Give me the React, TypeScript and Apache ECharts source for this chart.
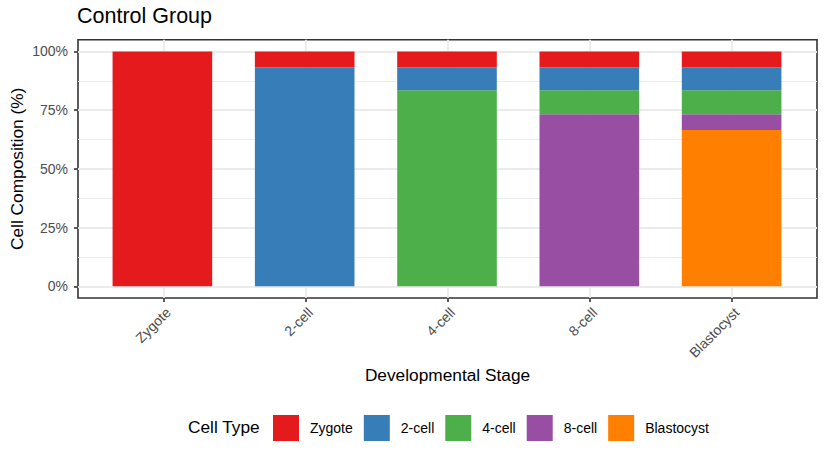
import React, { useEffect, useRef } from "react";
import * as echarts from "echarts";

const stages = ["Zygote", "2-cell", "4-cell", "8-cell", "Blastocyst"];
const cellTypes = ["Zygote", "2-cell", "4-cell", "8-cell", "Blastocyst"];
const zygotePct = [100, 6.8, 6.8, 6.8, 6.8];
const twoCellPct = [0, 93.2, 9.7, 9.7, 9.7];
const fourCellPct = [0, 0, 83.5, 10.2, 10.2];
const eightCellPct = [0, 0, 0, 73.3, 6.8];
const blastocystPct = [0, 0, 0, 0, 66.5];
const yTicks = [0, 25, 50, 75, 100];
const yMinorTicks = [12.5, 37.5, 62.5, 87.5];
const colors = ["#E41A1C", "#377EB8", "#4DAF4A", "#984EA3", "#FF7F00"];

const FONT = "'Liberation Sans', Arial, Helvetica, sans-serif";

export default function App() {
  const ref = useRef<HTMLDivElement>(null);
  useEffect(() => {
    document.body.style.margin = "0";
    if (!ref.current) return;
    const chart = echarts.init(ref.current, null, { renderer: "svg" });
    const valuesByType = [zygotePct, twoCellPct, fourCellPct, eightCellPct, blastocystPct];
    const xIdx = stages.map((_, i) => i);
    // panel: 77..817 px wide, discrete expansion 0.6 on each side
    const panelLeft = 77;
    const panelRight = 817;
    const unit = (panelRight - panelLeft) / 5.2;
    const barLeft = panelLeft + 0.1 * unit;
    const barRight = panelRight - 0.1 * unit;
    // stack order: first series at bottom -> Blastocyst first
    const order = [4, 3, 2, 1, 0];
    const series: any[] = order.map((k) => ({
      name: cellTypes[k],
      type: "bar",
      stack: "total",
      xAxisIndex: 1,
      yAxisIndex: 2,
      barWidth: "70%",
      itemStyle: { color: colors[k] },
      data: valuesByType[k],
    }));
    const tickStyle = { color: "#333333", width: 1.6 };
    chart.setOption({
      animation: false,
      textStyle: { fontFamily: FONT },
      title: {
        text: "Control Group",
        left: 77,
        top: 5,
        padding: 0,
        textStyle: { fontSize: 21.5, fontWeight: "normal", color: "#000", fontFamily: FONT },
      },
      grid: [
        {
          left: panelLeft,
          right: 827 - panelRight,
          top: 39.7,
          bottom: 163,
          show: true,
          backgroundColor: "#fff",
          borderColor: "#333333",
          borderWidth: 1.6,
        },
        {
          left: barLeft,
          right: 827 - barRight,
          top: 39.7,
          bottom: 163,
          show: false,
        },
      ],
      xAxis: [
        {
          type: "value",
          gridIndex: 0,
          position: "bottom",
          min: -0.6,
          max: 4.6,
          name: "Developmental Stage",
          nameLocation: "middle",
          nameGap: 68,
          nameMoveOverlap: false,
          nameTextStyle: { fontSize: 17.3, color: "#000", fontFamily: FONT },
          axisLine: { show: false, onZero: false },
          axisTick: { show: true, customValues: xIdx, length: 4, lineStyle: tickStyle },
          axisLabel: {
            customValues: xIdx,
            formatter: (v: number) => stages[Math.round(v)] ?? "",
            rotate: 45,
            align: "right",
            verticalAlign: "top",
            margin: 7,
            fontSize: 14,
            color: "#4d4d4d",
            fontFamily: FONT,
          },
          splitLine: { show: true, lineStyle: { color: "#ebebeb", width: 1.8 } },
        },
        {
          type: "category",
          gridIndex: 1,
          data: stages,
          show: false,
        },
      ],
      yAxis: [
        {
          type: "value",
          gridIndex: 0,
          position: "left",
          min: -5,
          max: 105,
          name: "Cell Composition (%)",
          nameLocation: "middle",
          nameGap: 53,
          nameMoveOverlap: false,
          nameTextStyle: { fontSize: 17.3, color: "#000", fontFamily: FONT },
          axisLine: { show: false, onZero: false },
          axisTick: { show: true, customValues: yTicks, length: 4, lineStyle: tickStyle },
          axisLabel: {
            customValues: yTicks,
            formatter: (v: number) => `${v}%`,
            margin: 10,
            fontSize: 14,
            color: "#4d4d4d",
            fontFamily: FONT,
          },
          splitLine: { show: true, lineStyle: { color: "#ebebeb", width: 1.8 } },
        },
        {
          type: "value",
          gridIndex: 0,
          position: "left",
          min: -5,
          max: 105,
          axisLine: { show: false, onZero: false },
          axisTick: { show: false, customValues: yMinorTicks },
          axisLabel: { show: false, customValues: yMinorTicks },
          splitLine: { show: true, lineStyle: { color: "#ebebeb", width: 0.9 } },
        },
        {
          type: "value",
          gridIndex: 1,
          min: -5,
          max: 105,
          show: false,
          splitLine: { show: false },
        },
      ],
      legend: {
        data: cellTypes,
        left: 273,
        top: 415,
        padding: 0,
        orient: "horizontal",
        icon: "rect",
        itemWidth: 26,
        itemHeight: 26,
        itemGap: 11,
        textStyle: { fontSize: 14, color: "#000", fontFamily: FONT, padding: [0, 0, 0, 6] },
      },
      graphic: [
        {
          type: "text",
          left: 188,
          top: 428 - 10,
          style: { text: "Cell Type", fontSize: 17.3, fill: "#000", fontFamily: FONT },
        },
      ],
      series,
    });
    return () => chart.dispose();
  }, []);
  return <div ref={ref} style={{ width: 827, height: 461 }} />;
}
